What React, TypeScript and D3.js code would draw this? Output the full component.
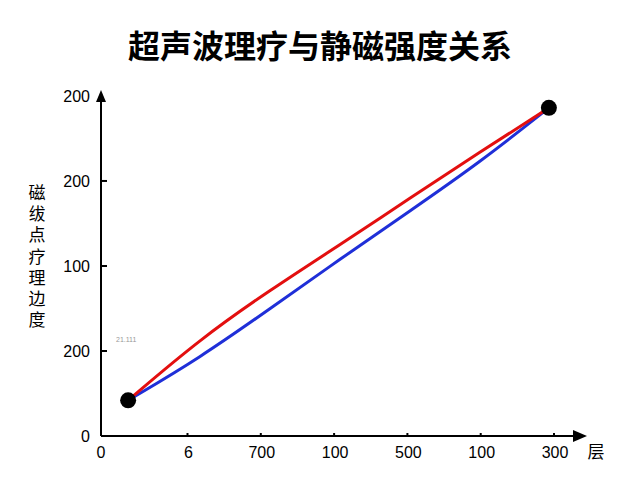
import * as d3 from 'd3'

const width = 640
const height = 480

// Chart data
const title = '超声波理疗与静磁强度关系'
const yTitle = '磁绂点疗理边度'
const xTitle = '层'
const xTickValues = [1, 2, 3, 4, 5, 6]
const xTickLabels = ['6', '700', '100', '500', '100', '300']
const yTickValues = [0, 1, 2, 3, 4]
const yTickLabels = ['0', '200', '100', '200', '200']
const xValues = [0.19, 1.17, 2.13, 3.08, 4.04, 4.99, 5.93]
const redValues = [0.42, 1.14, 1.72, 2.25, 2.8, 3.34, 3.86]
const blueValues = [0.42, 0.92, 1.5, 2.08, 2.65, 3.22, 3.86]
const endpoints = [
  [0.19, 0.42],
  [5.93, 3.86],
]
const note = '21.111'

const font = "'Liberation Sans', 'Noto Sans', sans-serif"
const cjk = "'Noto Sans CJK SC', sans-serif"

export default function App() {
  const x = d3.scaleLinear([-0.18, 6.45], [101, 587])
  const y = d3.scaleLinear([0, 4.07], [436, 90])
  const x0 = x(-0.18)
  const y0 = y(0)

  const line = d3
    .line<number>()
    .x((_, i) => x(xValues[i]))
    .y(d => y(d))
    .curve(d3.curveBasis)

  return (
    <svg
      width={width}
      height={height}
      viewBox={`0 0 ${width} ${height}`}
      style={{ position: 'absolute', left: 0, top: 0, background: '#fff' }}
    >
      <rect width={width} height={height} fill="#fff" />
      <text
        x={320}
        y={58}
        textAnchor="middle"
        fontFamily={cjk}
        fontWeight={700}
        fontSize={32}
        fill="#000"
      >
        {title}
      </text>

      {/* axes */}
      <line x1={x0} x2={x(6.3)} y1={y0} y2={y0} stroke="#000" strokeWidth={2} />
      <line x1={x0} x2={x0} y1={y0} y2={y(3.95)} stroke="#000" strokeWidth={2} />
      <path d={`M${x(6.45)},${y0} l-14,-6 v12 z`} fill="#000" />
      <path d={`M${x0},${y(4.07)} l-5,12 h10 z`} fill="#000" />

      {yTickValues.map((v, i) => (
        <g key={'y' + i}>
          {i > 0 && i < 4 && (
            <line x1={x0} x2={x0 + 6} y1={y(v)} y2={y(v)} stroke="#000" strokeWidth={2} />
          )}
          <text
            x={90}
            y={y(v) + 6}
            textAnchor="end"
            fontFamily={font}
            fontSize={16}
            fill="#000"
          >
            {yTickLabels[i]}
          </text>
        </g>
      ))}

      <text x={x0} y={458} textAnchor="middle" fontFamily={font} fontSize={16} fill="#000">
        0
      </text>
      {xTickValues.map((v, i) => (
        <g key={'x' + i}>
          <line x1={x(v)} x2={x(v)} y1={y0 - 3} y2={y0 + 1} stroke="#000" strokeWidth={2} />
          <text
            x={x(v) + 1}
            y={458}
            textAnchor="middle"
            fontFamily={font}
            fontSize={16}
            fill="#000"
          >
            {xTickLabels[i]}
          </text>
        </g>
      ))}
      <text x={596} y={458} textAnchor="middle" fontFamily={cjk} fontSize={17} fill="#000">
        {xTitle}
      </text>

      {/* vertical y-axis title */}
      <text
        x={37}
        y={184}
        fontFamily={cjk}
        fontSize={17}
        fill="#000"
        style={{ writingMode: 'vertical-rl', letterSpacing: '4.2px' }}
      >
        {yTitle}
      </text>

      <text x={116} y={342} fontFamily={font} fontSize={7} fill="#999">
        {note}
      </text>

      <path d={line(blueValues) ?? ''} fill="none" stroke="#1f2fd8" strokeWidth={3} />
      <path d={line(redValues) ?? ''} fill="none" stroke="#e30f0f" strokeWidth={3} />

      {endpoints.map((p, i) => (
        <circle key={'c' + i} cx={x(p[0])} cy={y(p[1])} r={8} fill="#000" />
      ))}
    </svg>
  )
}
